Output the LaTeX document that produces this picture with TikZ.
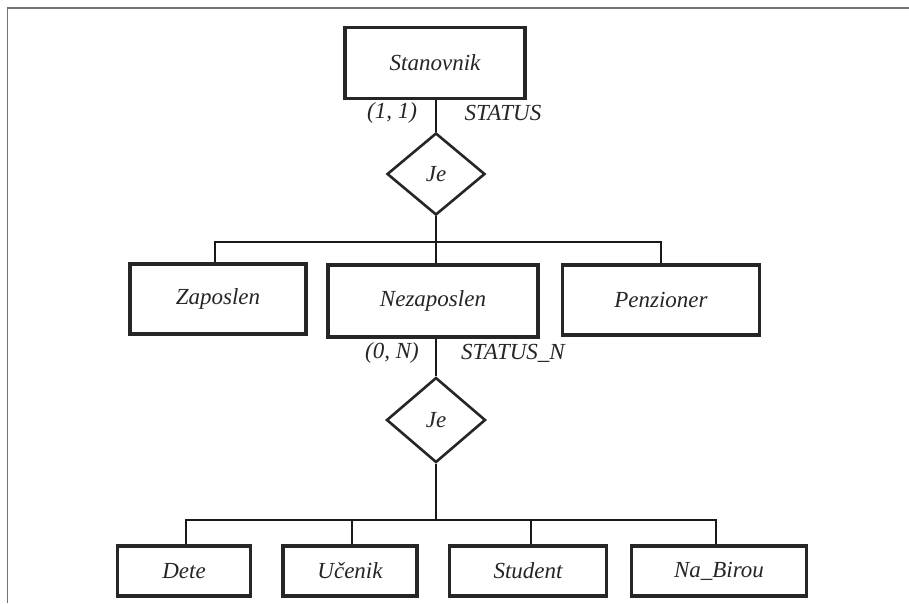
\documentclass[tikz,border=0pt]{standalone}
\usepackage{fontspec}
\setmainfont{Liberation Serif}
\usetikzlibrary{shapes.geometric}
\begin{document}
\begin{tikzpicture}[x=1pt,y=-1pt,
  every node/.style={font=\fontsize{23}{27}\selectfont\itshape, text=black!85},
  entity/.style={draw=black!85, line width=3.4pt, rectangle, inner sep=0pt},
  rel/.style={draw=black!85, line width=2.6pt, diamond, aspect=1.2, inner sep=0pt},
  link/.style={draw=black!90, line width=1.4pt},
  frame/.style={draw=black!55, line width=1pt},
  card/.style={inner sep=0pt}]
\useasboundingbox (0,0) rectangle (909,603);
\fill[white] (0,0) rectangle (909,603);
% outer frame (top and left edges)
\draw[frame, line width=1.6pt] (7,8) -- (909,8);
\draw[frame] (7,8) -- (7,603);

% top entity and its relationship
\node[entity, minimum width=180pt, minimum height=71pt] (stan) at (435,63) {Stanovnik};
\node[rel, minimum width=98pt, minimum height=82pt] (je1) at (436,174) {Je};
\node[card] (c1) at (392,113) {(1, 1)};
\node[card] (s1) at (503,113) {STATUS};

% second level entities
\node[entity, minimum width=176pt, minimum height=70pt] (zap) at (218,299) {Zaposlen};
\node[entity, minimum width=210pt, minimum height=72pt] (nez) at (433,301) {Nezaposlen};
\node[entity, minimum width=197pt, minimum height=70pt] (pen) at (661,300) {Penzioner};
\coordinate (b1) at (436,242);

\node[card] (c2) at (392,353) {(0, N)};
\node[card] (s2) at (513,353) {STATUS\_N};
\node[rel, minimum width=99pt, minimum height=85pt] (je2) at (436,420) {Je};

% third level entities
\node[entity, minimum width=133pt, minimum height=50pt] (dete) at (184,571) {Dete};
\node[entity, minimum width=134pt, minimum height=50pt] (uc) at (350,571) {Učenik};
\node[entity, minimum width=157pt, minimum height=50pt] (stu) at (528,571) {Student};
\node[entity, minimum width=175pt, minimum height=50pt] (nab) at (719,571) {Na\_Birou};
\coordinate (b2) at (436,520);

% connectors
\draw[link] (stan.south -| je1.north) -- (je1.north);
\draw[link] (je1.south) -- (b1);
\draw[link] (zap.north -| 215,0) |- (b1) -| (pen.north -| 661,0);
\draw[link] (b1) -- (nez.north -| b1);
\draw[link] (nez.south -| je2.north) -- (je2.north);
\draw[link] (je2.south) -- (b2);
\draw[link] (dete.north -| 186,0) |- (b2) -| (nab.north -| 716,0);
\draw[link] (uc.north -| 352,0) -- (352,520);
\draw[link] (stu.north -| 531,0) -- (531,520);
\end{tikzpicture}
\end{document}
